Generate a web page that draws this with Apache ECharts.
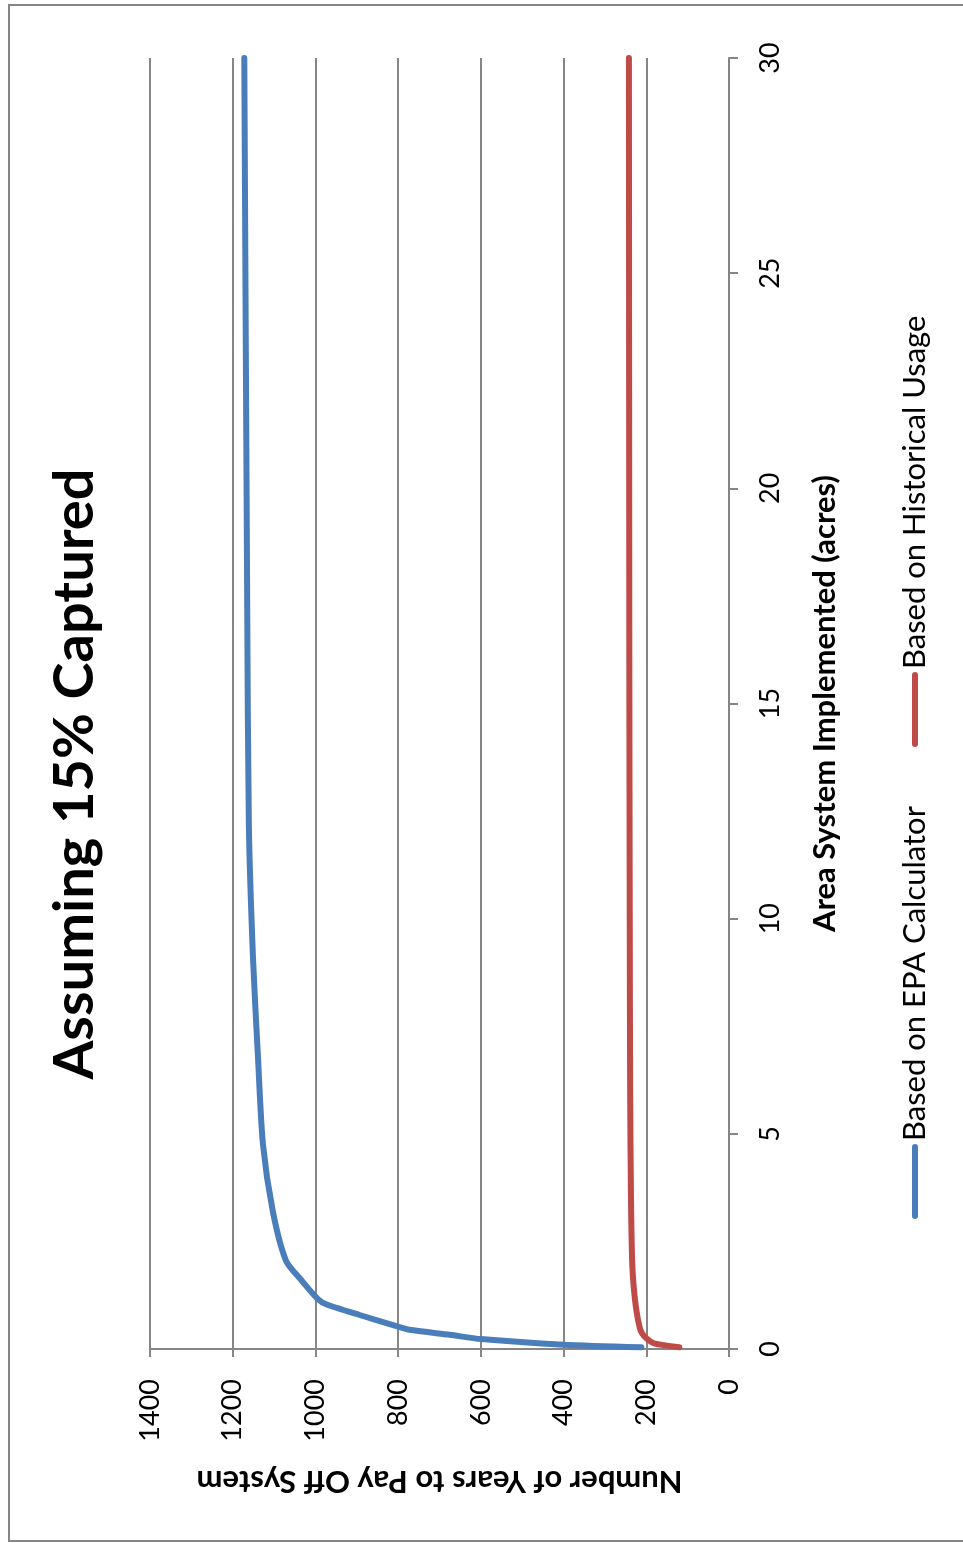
<!DOCTYPE html>
<html>
<head>
<meta charset="utf-8">
<script src="https://cdn.jsdelivr.net/npm/echarts@6/dist/echarts.min.js"></script>
<style>
  html, body { margin: 0; padding: 0; background: #fff; }
  #chart { width: 963px; height: 1543px; }
</style>
</head>
<body>
<div id="chart"></div>
<script>
// Payback period vs. implemented area, 15% of runoff captured
const titleText = 'Assuming 15% Captured';
const yearsAxisName = 'Number of Years to Pay Off System';
const areaAxisName = 'Area System Implemented (acres)';
const seriesNames = ['Based on EPA Calculator', 'Based on Historical Usage'];

// EPA calculator series: area (acres) and years to pay off
const epaArea  = [0.04, 0.1, 0.23, 0.33, 0.44, 0.52, 0.79, 1.04, 1.16, 1.6, 2.05, 3.2, 4.77, 6.8, 9.1, 12.2, 17.4, 30];
const epaYears = [212, 400, 600, 675, 768, 800, 893, 974, 994, 1034, 1071, 1103, 1127, 1139, 1151, 1161, 1165, 1172];

// Historical usage series
const histArea  = [0.04, 0.13, 0.25, 0.36, 0.5, 0.9, 1.4, 2, 3.5, 6, 10, 16, 30];
const histYears = [120, 181, 200, 210, 216, 224, 230, 234, 237, 239, 240, 241, 242];

const FONT = 'Lato, "Open Sans", sans-serif';
const GRID_COLOR = '#868686';
const BLUE = '#4A7EBB';
const RED = '#BE4B48';

const pairs = (xs, ys) => xs.map((a, i) => [ys[i], a]);

const chart = echarts.init(document.getElementById('chart'), null, { renderer: 'canvas' });

chart.setOption({
  animation: false,
  backgroundColor: '#ffffff',
  grid: { left: 150, right: 234, top: 58, bottom: 194, containLabel: false },
  xAxis: {
    type: 'value',
    min: 0, max: 1400, interval: 200,
    inverse: true,
    position: 'bottom',
    axisLine: { show: true, lineStyle: { color: GRID_COLOR, width: 2 } },
    axisTick: { show: true, length: 8, lineStyle: { color: GRID_COLOR, width: 2 } },
    splitLine: { show: true, lineStyle: { color: GRID_COLOR, width: 2 } },
    axisLabel: {
      rotate: 90, margin: 30, fontSize: 27, color: '#000', fontFamily: FONT,
      formatter: v => String(v)
    },
    name: yearsAxisName,
    nameLocation: 'middle',
    nameRotate: 180,
    nameGap: 116,
    nameTextStyle: { fontSize: 31, fontWeight: 'bold', color: '#000', fontFamily: FONT }
  },
  yAxis: {
    type: 'value',
    min: 0, max: 30, interval: 5,
    position: 'right',
    axisLine: { show: true, onZero: false, lineStyle: { color: GRID_COLOR, width: 2 } },
    axisTick: { show: true, length: 9, lineStyle: { color: GRID_COLOR, width: 2 } },
    splitLine: { show: false },
    axisLabel: {
      rotate: 90, margin: 28, fontSize: 27, color: '#000', fontFamily: FONT,
      formatter: v => String(v)
    },
    name: areaAxisName,
    nameLocation: 'middle',
    nameRotate: 90,
    nameGap: 80,
    nameTextStyle: { fontSize: 31, fontWeight: 'bold', color: '#000', fontFamily: FONT }
  },
  series: [
    {
      name: seriesNames[0],
      type: 'line',
      data: pairs(epaArea, epaYears),
      showSymbol: false,
      smooth: 0.25,
      lineStyle: { color: BLUE, width: 6, cap: 'round', join: 'round' },
      itemStyle: { color: BLUE },
      z: 3
    },
    {
      name: seriesNames[1],
      type: 'line',
      data: pairs(histArea, histYears),
      showSymbol: false,
      smooth: 0.25,
      lineStyle: { color: RED, width: 6, cap: 'round', join: 'round' },
      itemStyle: { color: RED },
      z: 3
    }
  ],
  graphic: [
    // chart border
    {
      type: 'rect', silent: true, z: -1,
      shape: { x: 9, y: 5, width: 958, height: 1536 },
      style: { fill: 'none', stroke: GRID_COLOR, lineWidth: 2 }
    },
    // title, reading bottom to top
    {
      type: 'text', x: 75, y: 774, rotation: Math.PI / 2,
      style: { text: titleText, font: 'bold 56px ' + FONT, fill: '#000', align: 'center', verticalAlign: 'middle' }
    },
    // legend entries
    {
      type: 'line', shape: { x1: 915, y1: 1216, x2: 915, y2: 1147 },
      style: { stroke: BLUE, lineWidth: 6, lineCap: 'round' }
    },
    {
      type: 'text', x: 915, y: 1141, rotation: Math.PI / 2,
      style: { text: seriesNames[0], font: '31px ' + FONT, fill: '#000', align: 'left', verticalAlign: 'middle' }
    },
    {
      type: 'line', shape: { x1: 915, y1: 744, x2: 915, y2: 675 },
      style: { stroke: RED, lineWidth: 6, lineCap: 'round' }
    },
    {
      type: 'text', x: 915, y: 669, rotation: Math.PI / 2,
      style: { text: seriesNames[1], font: '31px ' + FONT, fill: '#000', align: 'left', verticalAlign: 'middle' }
    }
  ]
});
</script>
</body>
</html>
